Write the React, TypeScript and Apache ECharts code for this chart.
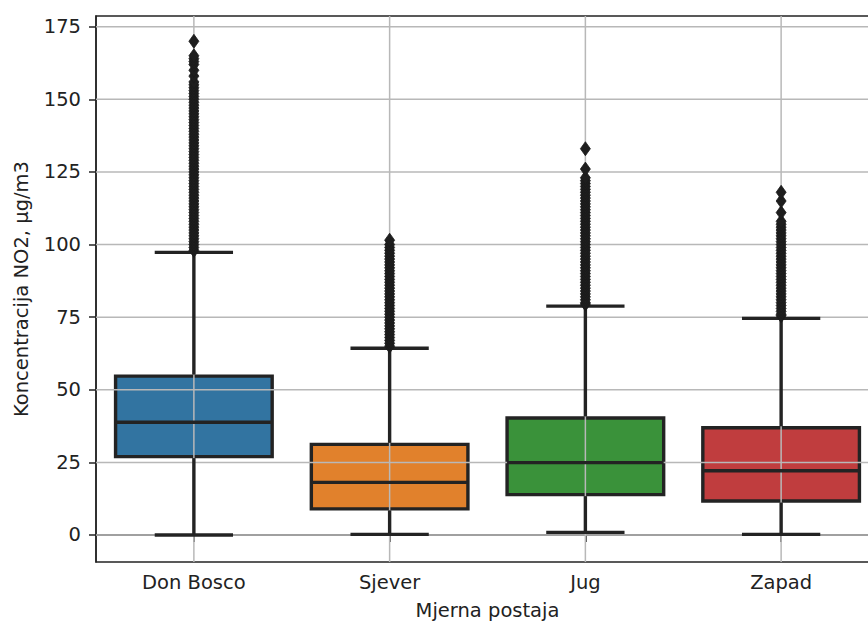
import React, { useEffect, useRef } from "react";
import * as echarts from "echarts";

const stations = ["Don Bosco", "Sjever", "Jug", "Zapad"];
const boxColors = ["#3274a1", "#e1812c", "#3a923a", "#c03d3e"];

const whiskerLow = [0.0, 0.2, 0.9, 0.2];
const q1 = [27.0, 9.0, 13.9, 11.7];
const median = [38.8, 18.1, 24.9, 22.1];
const q3 = [54.7, 31.2, 40.3, 36.9];
const whiskerHigh = [97.3, 64.3, 78.8, 74.6];

const outliersDonBosco = [
  98, 99, 100, 101, 102, 103, 104, 105, 106, 107, 108, 109, 110, 111, 112, 113,
  114, 115, 116, 117, 118, 119, 120, 121, 122, 123, 124, 125, 126, 127, 128, 129,
  130, 131, 132, 133, 134, 135, 136, 137, 138, 139, 140, 141, 142, 143, 144, 145,
  146, 147, 148, 149, 150, 151, 152, 153, 154, 155, 156, 158, 160, 162, 163, 164,
  165, 170,
];
const outliersSjever = [
  65, 66, 67, 68, 69, 70, 71, 72, 73, 74, 75, 76, 77, 78, 79, 80, 81, 82, 83, 84,
  85, 86, 87, 88, 89, 90, 91, 92, 93, 94, 95, 96, 97, 98, 99, 100, 101.5,
];
const outliersJug = [
  79.5, 80, 81, 82, 83, 84, 85, 86, 87, 88, 89, 90, 91, 92, 93, 94, 95, 96, 97, 98,
  99, 100, 101, 102, 103, 104, 105, 106, 107, 108, 109, 110, 111, 112, 113, 114,
  115, 116, 117, 118, 119, 120, 121, 122, 123, 126, 133,
];
const outliersZapad = [
  75.5, 76, 77, 78, 79, 80, 81, 82, 83, 84, 85, 86, 87, 88, 89, 90, 91, 92, 93, 94,
  95, 96, 97, 98, 99, 100, 101, 102, 103, 104, 105, 106, 107, 108, 111, 115, 118,
];
const outliers = [outliersDonBosco, outliersSjever, outliersJug, outliersZapad];

const yTicks = [0, 25, 50, 75, 100, 125, 150, 175];

const FONT = "DejaVu Sans";
const INK = "#232323";
const GRIDC = "#b8b8b8";

export default function App() {
  const ref = useRef<HTMLDivElement>(null);

  useEffect(() => {
    if (!ref.current) return;
    const chart = echarts.init(ref.current, null, { renderer: "svg" });

    const boxData = stations.map((s, i) => [i, q1[i], q3[i]]);
    const lineData = stations.map((s, i) => [
      i,
      whiskerLow[i],
      q1[i],
      median[i],
      q3[i],
      whiskerHigh[i],
    ]);
    const flierData: number[][] = [];
    outliers.forEach((arr, i) => arr.forEach((v) => flierData.push([i, v])));

    const option: any = {
      animation: false,
      backgroundColor: "#ffffff",
      grid: {
        left: 96,
        top: 16,
        width: 783,
        height: 546,
        show: true,
        borderColor: INK,
        borderWidth: 1.5,
        backgroundColor: "transparent",
      },
      xAxis: {
        type: "category",
        data: stations,
        boundaryGap: true,
        axisLine: { show: true, lineStyle: { color: INK, width: 1.5 } },
        axisTick: {
          show: true,
          alignWithLabel: true,
          length: 7,
          lineStyle: { color: INK, width: 1.5 },
        },
        axisLabel: { fontSize: 19.5, fontFamily: FONT, color: "#222", margin: 10 },
        splitLine: { show: false },
      },
      yAxis: {
        type: "value",
        min: -9.3,
        max: 178.7,
        axisLine: { show: true, lineStyle: { color: INK, width: 1.5 } },
        axisTick: {
          show: true,
          length: 7,
          customValues: yTicks,
          lineStyle: { color: INK, width: 1.5 },
        },
        axisLabel: {
          fontSize: 19.5,
          fontFamily: FONT,
          color: "#222",
          margin: 15,
          customValues: yTicks,
        },
        splitLine: { show: false },
      },
      graphic: [
        {
          type: "text",
          x: 21,
          y: 289,
          rotation: Math.PI / 2,
          style: {
            text: "Koncentracija NO2, µg/m3",
            fontSize: 19.5,
            fontFamily: FONT,
            fill: "#222",
            align: "center",
            verticalAlign: "middle",
          },
        },
        {
          type: "text",
          x: 487.5,
          y: 610,
          style: {
            text: "Mjerna postaja",
            fontSize: 19.5,
            fontFamily: FONT,
            fill: "#222",
            align: "center",
            verticalAlign: "middle",
          },
        },
      ],
      series: [
        {
          type: "custom",
          name: "boxes",
          z: 2,
          data: boxData,
          renderItem: (params: any, api: any) => {
            const i = api.value(0);
            const lo = api.coord([i, api.value(1)]);
            const hi = api.coord([i, api.value(2)]);
            const bw = api.size([1, 0])[0] * 0.8;
            return {
              type: "rect",
              shape: { x: lo[0] - bw / 2, y: hi[1], width: bw, height: lo[1] - hi[1] },
              style: { fill: boxColors[i], stroke: INK, lineWidth: 3.4 },
            };
          },
        },
        {
          type: "custom",
          name: "hgrid",
          z: 3,
          data: yTicks.map((v) => [0, v]),
          renderItem: (params: any, api: any) => {
            const cs = params.coordSys;
            const y = api.coord([0, api.value(1)])[1];
            return {
              type: "line",
              shape: { x1: cs.x, y1: y, x2: cs.x + cs.width, y2: y },
              style: { stroke: GRIDC, lineWidth: 1.5 },
            };
          },
        },
        {
          type: "custom",
          name: "vgrid",
          z: 3,
          data: stations.map((s, i) => [i, 0]),
          renderItem: (params: any, api: any) => {
            const cs = params.coordSys;
            const x = api.coord([api.value(0), 0])[0];
            return {
              type: "line",
              shape: { x1: x, y1: cs.y, x2: x, y2: cs.y + cs.height },
              style: { stroke: GRIDC, lineWidth: 1.5 },
            };
          },
        },
        {
          type: "custom",
          name: "lines",
          z: 4,
          data: lineData,
          renderItem: (params: any, api: any) => {
            const i = api.value(0);
            const pLow = api.coord([i, api.value(1)]);
            const pQ1 = api.coord([i, api.value(2)]);
            const pMed = api.coord([i, api.value(3)]);
            const pQ3 = api.coord([i, api.value(4)]);
            const pHigh = api.coord([i, api.value(5)]);
            const bw = api.size([1, 0])[0] * 0.8;
            const cx = pLow[0];
            const st = { stroke: INK, lineWidth: 3.4 };
            return {
              type: "group",
              children: [
                { type: "line", shape: { x1: cx, y1: pLow[1], x2: cx, y2: pQ1[1] + 1.5 }, style: st },
                { type: "line", shape: { x1: cx, y1: pQ3[1] - 1.5, x2: cx, y2: pHigh[1] }, style: st },
                { type: "line", shape: { x1: cx - bw / 4, y1: pLow[1], x2: cx + bw / 4, y2: pLow[1] }, style: st },
                { type: "line", shape: { x1: cx - bw / 4, y1: pHigh[1], x2: cx + bw / 4, y2: pHigh[1] }, style: st },
                { type: "line", shape: { x1: cx - bw / 2, y1: pMed[1], x2: cx + bw / 2, y2: pMed[1] }, style: st },
              ],
            };
          },
        },
        {
          type: "scatter",
          name: "fliers",
          z: 5,
          symbol: "diamond",
          symbolSize: [10, 14],
          data: flierData,
          itemStyle: { color: "#1e1e1e", borderColor: "#1a1a1a", borderWidth: 0.8, opacity: 1 },
        },
      ],
    };

    chart.setOption(option);
    return () => chart.dispose();
  }, []);

  return (
    <div
      style={{
        position: "fixed",
        left: 0,
        top: 0,
        width: 868,
        height: 621,
        overflow: "hidden",
        background: "#fff",
      }}
    >
      <div ref={ref} style={{ width: 884, height: 621 }} />
    </div>
  );
}
